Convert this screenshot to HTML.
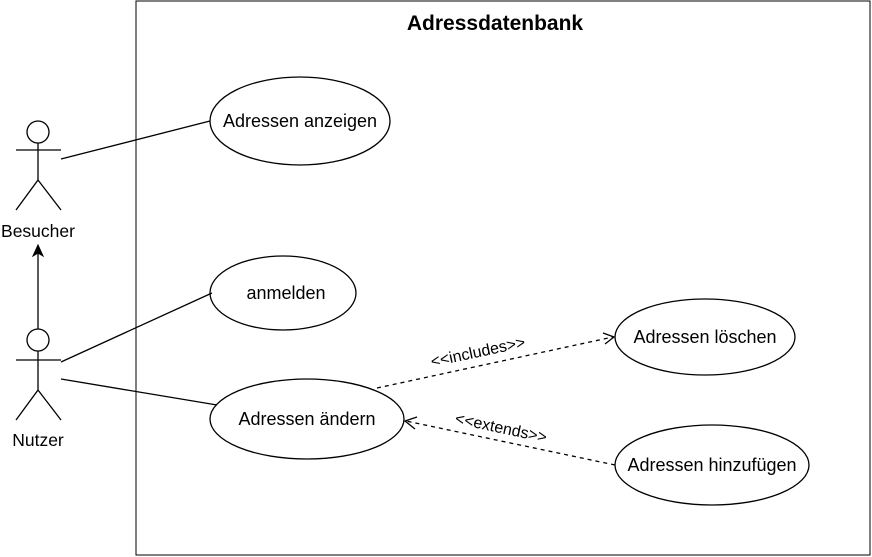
<!DOCTYPE html>
<html><head><meta charset="utf-8"><style>body{margin:0;background:#fff}svg{display:block}text{font-family:"Liberation Sans",sans-serif}</style></head>
<body>
<svg width="872" height="557" viewBox="0 0 872 557" xmlns="http://www.w3.org/2000/svg">
<rect x="136" y="1" width="734" height="554" fill="#fff" stroke="#000" stroke-width="1"/>
<text x="495" y="30" font-size="21" font-weight="bold" text-anchor="middle">Adressdatenbank</text>
<g fill="#fff" stroke="#000" stroke-width="1.3">
<ellipse cx="300" cy="121" rx="90" ry="44"/>
<ellipse cx="283" cy="293" rx="73" ry="37"/>
<ellipse cx="307" cy="419" rx="97" ry="40"/>
<ellipse cx="705" cy="337" rx="90" ry="38"/>
<ellipse cx="712" cy="465" rx="97" ry="40"/>
</g>
<g font-size="18" text-anchor="middle">
<text x="300" y="127">Adressen anzeigen</text>
<text x="286" y="299">anmelden</text>
<text x="307" y="425">Adressen ändern</text>
<text x="705" y="343">Adressen löschen</text>
<text x="712" y="471">Adressen hinzufügen</text>
</g>
<g stroke="#000" stroke-width="1.3" fill="none">
<circle cx="38" cy="132" r="11"/>
<path d="M16 150H61M38 143V180L16 210M38 180L61 210"/>
<circle cx="38" cy="340" r="11"/>
<path d="M16 360H61M38 351V390L16 420M38 390L61 420"/>
<path d="M38 329V252"/>
<path d="M61 159L210 121M61 362L212 293M61 379L217 405"/>
<path d="M377 388L613 337" stroke-dasharray="4,4"/>
<path d="M603 333L614 337L605 344"/>
<path d="M615 465L406 421" stroke-dasharray="4,4"/>
<path d="M417 417L405 421L415 429"/>
</g>
<path d="M38 245L33 256L38 253L43 256Z" fill="#000" stroke="#000"/>
<g font-size="17.5" text-anchor="middle">
<text x="38" y="237">Besucher</text>
<text x="38" y="446">Nutzer</text>
</g>
<text x="479" y="357" font-size="16" text-anchor="middle" transform="rotate(-12 479 357)">&lt;&lt;includes&gt;&gt;</text>
<text x="500" y="433" font-size="16" text-anchor="middle" transform="rotate(12 500 433)">&lt;&lt;extends&gt;&gt;</text>
</svg>
</body></html>
